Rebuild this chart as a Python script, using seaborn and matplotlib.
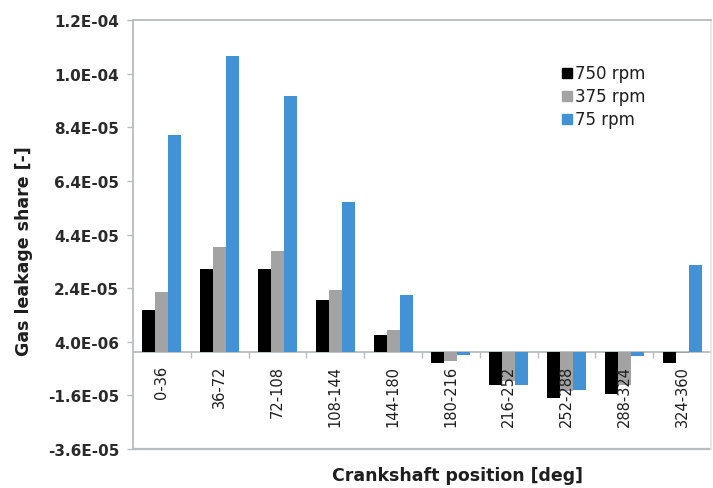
import numpy as np
import pandas as pd
import matplotlib
matplotlib.use("Agg")
import matplotlib.pyplot as plt
from matplotlib.lines import Line2D
import seaborn as sns

categories = ["0-36", "36-72", "72-108", "108-144", "144-180",
              "180-216", "216-252", "252-288", "288-324", "324-360"]
rpm_750 = [1.57e-5, 3.10e-5, 3.10e-5, 1.97e-5, 0.66e-5,
           -0.41e-5, -1.23e-5, -1.70e-5, -1.56e-5, -0.41e-5]
rpm_375 = [2.27e-5, 3.95e-5, 3.78e-5, 2.34e-5, 0.82e-5,
           -0.33e-5, -1.05e-5, -1.45e-5, -1.20e-5, -0.03e-5]
rpm_75 = [8.10e-5, 11.04e-5, 9.57e-5, 5.62e-5, 2.16e-5,
          -0.08e-5, -1.20e-5, -1.39e-5, -0.12e-5, 3.26e-5]
series_names = ["750 rpm", "375 rpm", "75 rpm"]
y_ticks = [-3.6e-5, -1.6e-5, 4.0e-6, 2.4e-5, 4.4e-5, 6.4e-5, 8.4e-5, 1.04e-4, 1.24e-4]

colors = ["#000000", "#a3a3a3", "#4392d6"]

rows = []
for name, vals in zip(series_names, [rpm_750, rpm_375, rpm_75]):
    for c, v in zip(categories, vals):
        rows.append({"pos": c, "val": v, "rpm": name})
df = pd.DataFrame(rows)

sns.set_theme(style="white")
plt.rcParams["font.family"] = ["DejaVu Sans"]

fig = plt.figure(figsize=(7.13, 4.89), dpi=100)
ax = fig.add_axes([133 / 713, 1 - 450 / 489, 578 / 713, 429 / 489])

sns.barplot(data=df, x="pos", y="val", hue="rpm", order=categories,
            hue_order=series_names, palette=colors, width=0.675,
            saturation=1, ax=ax, legend=False, errorbar=None, linewidth=0)
ax.set_axisbelow(False)

ax.set_xlim(-0.5, len(categories) - 0.5)
ax.set_ylim(y_ticks[0], y_ticks[-1])
ax.set_yticks(y_ticks)
ax.set_yticklabels(["{:.1E}".format(t) for t in y_ticks], fontsize=11,
                   fontweight="bold", color="#2a2a2a")

grey = "#b9bcbf"
for s in ["left", "top", "right"]:
    ax.spines[s].set_color(grey)
    ax.spines[s].set_linewidth(1.3)
ax.spines["right"].set_color("#e4e6e8")
ax.spines["bottom"].set_position(("data", 0))
ax.spines["bottom"].set_color(grey)
ax.spines["bottom"].set_linewidth(1.3)
ax.spines["bottom"].set_zorder(0.5)
ax.plot([0, 1], [0, 0], transform=ax.transAxes, color=grey, lw=1.6, clip_on=False)

ax.tick_params(axis="y", left=True, length=4, width=1, color=grey, pad=6)
ax.set_xticks(range(len(categories)))
ax.set_xticklabels(categories, rotation=90, fontsize=10.5, color="#1e1e1e", va="top")
ax.tick_params(axis="x", which="major", length=0, pad=9)
ax.set_xticks(np.arange(0.5, len(categories) - 0.5, 1), minor=True)
ax.tick_params(axis="x", which="minor", bottom=True, length=4, width=1, color=grey)

ax.set_xlabel("")
ax.set_ylabel("")
fig.text(24 / 713, 1 - 251 / 489, "Gas leakage share [-]", rotation=90,
         ha="center", va="center", fontsize=12.5, fontweight="bold", color="#1e1e1e")
fig.text(458 / 713, 1 - 476 / 489, "Crankshaft position [deg]",
         ha="center", va="center", fontsize=12.5, fontweight="bold", color="#1e1e1e")

handles = [Line2D([0], [0], marker="s", linestyle="", markersize=7,
                  markerfacecolor=c, markeredgecolor=c) for c in colors]
leg = ax.legend(handles, series_names, loc="upper left",
                bbox_to_anchor=(554 / 713, 1 - 57 / 489), bbox_transform=fig.transFigure,
                frameon=False, fontsize=12, handlelength=0.5, handletextpad=0.25,
                labelspacing=0.3, borderpad=0)
for t in leg.get_texts():
    t.set_color("#1e1e1e")

fig.savefig("out.png", dpi=100)
